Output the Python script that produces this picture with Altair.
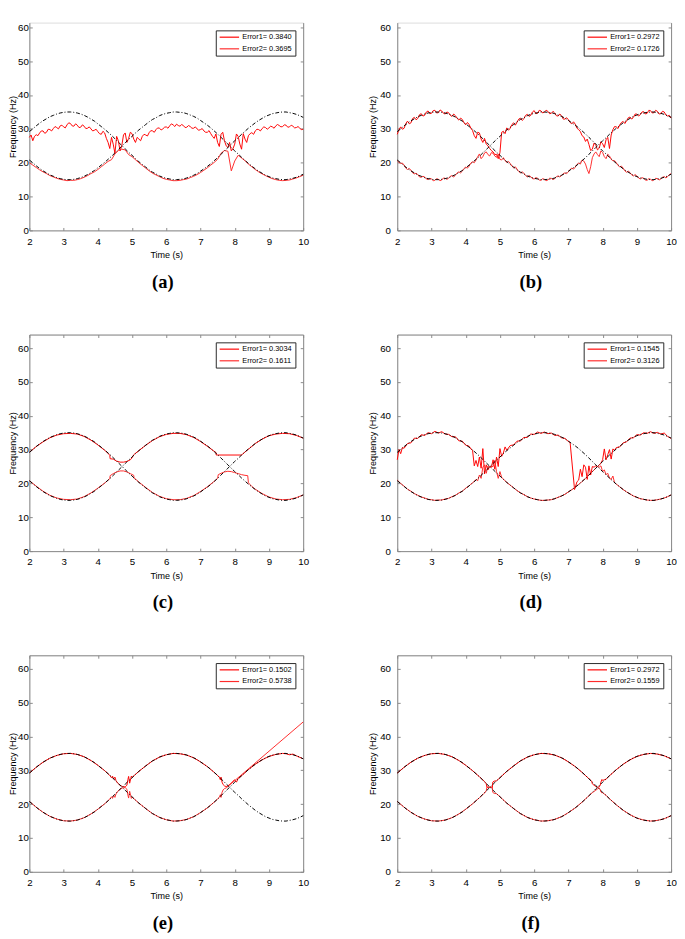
import altair as alt
import pandas as pd

# ---------------- data ----------------
T = [round(2 + 0.1 * i, 1) for i in range(81)]      # 0.1 s grid
T05 = [round(2 + 0.05 * i, 2) for i in range(161)]  # 0.05 s grid

# reference (dash-dot) curves
BLACK_A = [29.2, 30.0, 30.9, 31.7, 32.4, 33.0, 33.6, 34.0, 34.4, 34.7,
           34.9, 35.0, 35.0, 34.9, 34.7, 34.4, 34.0, 33.5, 32.9, 32.3,
           31.5, 30.7, 29.9, 29.0, 28.1, 27.1, 26.1, 25.1, 24.1, 23.1,
           22.2, 21.2, 20.3, 19.5, 18.7, 17.9, 17.2, 16.7, 16.1, 15.7,
           15.4, 15.2, 15.0, 15.0, 15.1, 15.2, 15.5, 15.9, 16.3, 16.8,
           17.5, 18.2, 18.9, 19.7, 20.6, 21.5, 22.5, 23.5, 24.5, 25.5,
           26.5, 27.4, 28.4, 29.3, 30.2, 31.0, 31.8, 32.5, 33.1, 33.7,
           34.1, 34.5, 34.7, 34.9, 35.0, 35.0, 34.8, 34.6, 34.3, 33.9,
           33.4]
BLACK_B = [20.8, 20.0, 19.1, 18.3, 17.6, 17.0, 16.4, 16.0, 15.6, 15.3,
           15.1, 15.0, 15.0, 15.1, 15.3, 15.6, 16.0, 16.5, 17.1, 17.7,
           18.5, 19.3, 20.1, 21.0, 21.9, 22.9, 23.9, 24.9, 25.9, 26.9,
           27.8, 28.8, 29.7, 30.5, 31.3, 32.1, 32.8, 33.3, 33.9, 34.3,
           34.6, 34.8, 35.0, 35.0, 34.9, 34.8, 34.5, 34.1, 33.7, 33.2,
           32.5, 31.8, 31.1, 30.3, 29.4, 28.5, 27.5, 26.5, 25.5, 24.5,
           23.5, 22.6, 21.6, 20.7, 19.8, 19.0, 18.2, 17.5, 16.9, 16.3,
           15.9, 15.5, 15.3, 15.1, 15.0, 15.0, 15.2, 15.4, 15.7, 16.1,
           16.6]

# panel (a)  (VA1 on T05, VA2 on T)
VA1 = [27.5, 28.2, 26.5, 27.8, 28.3, 28.0, 28.8, 29.4, 29.4, 28.7,
       29.0, 29.9, 29.8, 29.4, 30.1, 30.7, 30.4, 30.0, 30.9, 31.1,
       30.6, 30.3, 31.2, 31.8, 31.6, 30.9, 30.8, 31.5, 31.1, 30.4,
       30.5, 31.2, 30.8, 30.1, 30.2, 30.6, 30.0, 29.4, 29.6, 29.9,
       29.2, 28.6, 28.4, 29.3, 28.8, 27.2, 26.0, 24.2, 27.5, 25.5,
       22.8, 27.8, 26.5, 23.5, 25.0, 28.2, 28.8, 26.0, 27.2, 29.0,
       28.6, 27.0, 26.0, 27.5, 27.0, 26.5, 27.8, 28.4, 28.2, 27.9,
       28.9, 29.5, 29.4, 29.0, 29.8, 30.3, 30.2, 29.7, 30.0, 30.5,
       30.6, 30.2, 30.9, 31.5, 31.2, 30.7, 31.4, 31.0, 30.8, 31.3,
       31.0, 30.4, 30.5, 31.0, 30.7, 30.2, 30.2, 30.6, 30.0, 29.6,
       29.8, 30.1, 29.4, 29.0, 29.0, 29.5, 28.6, 27.8, 27.2, 28.5,
       26.0, 24.8, 28.4, 29.0, 26.5, 25.0, 24.5, 26.0, 23.5, 24.2,
       25.5, 28.5, 27.8, 25.5, 24.0, 28.6, 27.0, 26.0, 28.0, 28.6,
       28.9, 28.4, 29.4, 29.9, 29.8, 29.4, 30.1, 30.6, 30.4, 29.9,
       30.3, 30.8, 30.6, 30.2, 30.9, 31.3, 31.0, 30.6, 30.7, 31.2,
       31.1, 30.5, 30.6, 31.1, 30.8, 30.3, 30.4, 30.7, 30.2, 29.8,
       29.9]
VA2 = [20.0, 19.3, 18.6, 17.9, 17.3, 16.8, 16.2, 15.8, 15.4, 15.1,
       14.9, 14.7, 14.8, 14.8, 15.0, 15.3, 15.7, 16.2, 16.8, 17.3,
       18.0, 18.8, 19.6, 20.4, 20.9, 22.6, 23.6, 24.0, 23.8, 22.4,
       21.8, 20.9, 20.0, 19.2, 18.4, 17.6, 16.9, 16.4, 15.9, 15.4,
       15.1, 14.9, 14.7, 14.7, 14.8, 15.0, 15.2, 15.6, 16.0, 16.5,
       17.1, 17.8, 18.5, 19.3, 20.1, 21.0, 22.8, 23.6, 23.4, 17.6,
       20.5, 22.2, 21.4, 20.6, 19.6, 18.8, 18.0, 17.3, 16.7, 16.2,
       15.7, 15.3, 15.0, 14.8, 14.7, 14.8, 14.9, 15.2, 15.5, 15.9,
       16.3]

# panel (b)  (both on T05)
VB1 = [28.4, 29.8, 30.6, 29.9, 30.2, 31.6, 32.3, 31.5, 31.8, 33.1,
       33.4, 32.7, 33.1, 34.2, 34.5, 33.8, 34.0, 35.0, 35.3, 34.5,
       34.6, 35.4, 35.5, 34.7, 34.8, 35.6, 35.3, 34.6, 34.4, 35.0,
       34.8, 34.0, 33.7, 34.4, 33.9, 33.1, 32.6, 33.2, 32.8, 31.8,
       31.2, 31.9, 31.3, 30.2, 29.5, 28.0, 27.2, 29.0, 28.8, 27.0,
       26.0, 27.2, 25.5, 25.0, 24.2, 23.6, 23.2, 22.4, 22.5, 21.2,
       23.0, 29.0, 29.3, 28.6, 30.3, 29.6, 30.2, 31.3, 31.8, 31.1,
       32.0, 32.9, 33.2, 32.5, 33.0, 34.0, 34.3, 33.7, 34.0, 35.0,
       35.4, 34.5, 34.6, 35.5, 35.3, 34.7, 35.0, 35.5, 35.2, 34.5,
       34.6, 35.2, 34.7, 33.9, 33.8, 34.4, 33.9, 32.9, 32.9, 33.3,
       32.7, 31.9, 31.5, 32.1, 31.4, 30.2, 29.8, 29.2, 28.0, 27.6,
       26.3, 27.0, 25.4, 23.6, 24.0, 25.8, 25.2, 23.8, 24.3, 26.2,
       25.6, 24.5, 26.8, 27.5, 24.2, 28.2, 29.8, 30.7, 30.6, 30.1,
       31.2, 31.9, 32.2, 31.6, 32.4, 33.3, 33.5, 32.9, 33.4, 34.4,
       34.4, 33.8, 34.2, 35.0, 35.1, 34.4, 34.6, 35.5, 35.4, 34.7,
       34.8, 35.5, 35.2, 34.4, 34.5, 35.2, 35.0, 34.1, 33.8, 34.0,
       33.2]
VB2 = [20.6, 20.1, 19.8, 19.9, 19.3, 18.4, 18.0, 18.3, 17.8, 17.0,
       16.7, 16.9, 16.5, 15.8, 15.7, 16.0, 15.8, 15.2, 15.0, 15.4,
       15.2, 14.7, 14.8, 15.3, 15.1, 14.7, 14.9, 15.5, 15.4, 15.1,
       15.4, 16.0, 16.2, 15.8, 16.3, 17.0, 17.3, 17.0, 17.5, 18.3,
       18.7, 18.4, 19.0, 19.9, 20.3, 20.0, 20.8, 21.8, 22.6, 21.2,
       21.8, 22.9, 23.2, 22.4, 22.0, 23.0, 22.8, 22.0, 21.6, 22.6,
       21.0, 20.8, 21.5, 20.6, 20.1, 20.4, 19.8, 19.0, 18.5, 18.8,
       18.1, 17.4, 17.0, 17.3, 16.9, 16.2, 15.8, 16.2, 15.9, 15.3,
       15.2, 15.6, 15.4, 14.9, 14.8, 15.3, 15.1, 14.7, 14.9, 15.4,
       15.4, 15.0, 15.3, 15.9, 16.1, 15.8, 16.2, 16.8, 17.0, 16.8,
       17.3, 18.0, 18.4, 18.1, 18.7, 19.5, 19.9, 19.6, 20.8, 20.5,
       19.6, 18.0, 16.8, 18.8, 21.5, 22.6, 23.2, 22.4, 21.8, 23.5,
       23.0, 21.8, 21.2, 22.5, 22.0, 21.0, 20.6, 20.6, 20.0, 19.2,
       18.8, 19.0, 18.4, 17.6, 17.2, 17.5, 17.1, 16.4, 16.1, 16.5,
       16.1, 15.5, 15.2, 15.6, 15.4, 14.9, 14.8, 15.3, 15.1, 14.7,
       14.9, 15.4, 15.3, 14.9, 15.2, 15.7, 15.9, 15.5, 15.9, 16.5,
       16.8]

# panel (c)
TC1 = [2.0, 2.2, 2.4, 2.6, 2.8, 3.0, 3.2, 3.4, 3.6, 3.8, 4.0, 4.2,
       4.3, 4.35, 4.36, 4.45, 4.55, 4.65, 4.75, 4.85, 4.95, 5.0, 5.05, 5.1,
       5.2, 5.4, 5.6, 5.8, 6.0, 6.2, 6.4, 6.6, 6.8, 7.0, 7.2, 7.4,
       7.45, 7.46, 8.2, 8.3, 8.4,
       8.6, 8.8, 9.0, 9.2, 9.4, 9.6, 9.8, 10.0]
VC1 = [29.2, 30.9, 32.3, 33.5, 34.3, 34.7, 34.8, 34.6, 33.9, 32.8, 31.4, 29.8,
       28.9, 28.3, 27.3, 27.2, 26.6, 26.3, 26.3, 26.5, 27.0, 27.6, 28.5, 28.9,
       29.7, 31.3, 32.7, 33.8, 34.5, 34.8, 34.8, 34.4, 33.6, 32.4, 31.0, 29.5,
       29.2, 28.4, 28.4, 29.3, 30.1,
       31.8, 33.1, 34.1, 34.6, 34.8, 34.7, 34.2, 33.4]
TC2 = [2.0, 2.2, 2.4, 2.6, 2.8, 3.0, 3.2, 3.4, 3.6, 3.8, 4.0, 4.2,
       4.35, 4.36, 4.45, 4.55, 4.65, 4.75, 4.85, 4.95, 5.05, 5.06, 5.1,
       5.2, 5.4, 5.6, 5.8, 6.0, 6.2, 6.4, 6.6, 6.8, 7.0, 7.2, 7.4,
       7.5, 7.52, 7.6, 7.7, 7.8, 7.9, 8.0, 8.1, 8.2, 8.3, 8.38, 8.4, 8.5, 8.6,
       8.8, 9.0, 9.2, 9.4, 9.6, 9.8, 10.0]
VC2 = [20.8, 19.2, 17.7, 16.5, 15.7, 15.3, 15.2, 15.4, 16.1, 17.2, 18.6, 20.1,
       21.4, 22.3, 22.9, 23.4, 23.7, 23.7, 23.4, 22.9, 22.4, 21.5, 21.3,
       20.4, 18.8, 17.3, 16.2, 15.5, 15.2, 15.2, 15.6, 16.4, 17.6, 19.0, 20.6,
       21.5, 22.6, 23.0, 23.4, 23.6, 23.5, 23.2, 22.9, 22.6, 22.4, 22.3, 20.2, 19.1, 18.3,
       17.0, 16.0, 15.4, 15.2, 15.3, 15.8, 16.6]

# panel (d)
TD = [2.0, 2.05, 2.1, 2.15, 2.2,
      2.3, 2.4, 2.5, 2.6, 2.7, 2.8, 2.9, 3.0, 3.1, 3.2, 3.3, 3.4, 3.5, 3.6, 3.7, 3.8, 3.9, 4.0, 4.1,
      4.15, 4.2, 4.25, 4.3, 4.35, 4.4, 4.45, 4.5, 4.55, 4.6, 4.65, 4.7, 4.75, 4.8, 4.85, 4.9, 4.95,
      5.0, 5.05, 5.1, 5.15, 5.2,
      5.3, 5.4, 5.5, 5.6, 5.7, 5.8, 5.9, 6.0, 6.1, 6.2, 6.3, 6.4, 6.5, 6.6, 6.7, 6.8, 6.9, 7.0,
      7.05, 7.18,
      7.25, 7.3, 7.35, 7.4, 7.45, 7.5, 7.55, 7.6, 7.65, 7.7, 7.75, 7.8, 7.85, 7.9, 7.95, 8.0,
      8.05, 8.1, 8.15, 8.2, 8.25, 8.3, 8.35, 8.4,
      8.5, 8.6, 8.7, 8.8, 8.9, 9.0, 9.1, 9.2, 9.3, 9.4, 9.5, 9.6, 9.7, 9.8, 9.9, 10.0]
VD1 = [27.0, 30.0, 28.8, 30.6, 30.4,
       31.8, 32.0, 33.4, 33.3, 34.4, 34.2, 35.0, 34.7, 35.4, 34.9, 35.3, 34.6, 34.5, 33.8, 33.8, 32.6, 32.5, 31.3, 31.0,
       30.2, 29.8, 25.2, 26.8, 25.0, 27.8, 24.5, 30.3, 22.8, 25.5, 24.0, 25.0, 24.8, 27.0, 24.2, 27.8, 25.0,
       30.3, 28.0, 29.0, 30.8, 29.8,
       31.2, 31.4, 32.5, 32.6, 33.6, 33.6, 34.6, 34.5, 35.2, 34.8, 35.2, 34.7, 34.9, 34.2, 34.3, 33.5, 33.3, 32.4,
       32.1, 18.2,
       20.5, 21.0, 24.2, 22.0, 25.5, 24.8, 21.2, 25.2, 22.5, 25.0, 24.8, 25.2, 25.0, 25.4, 26.0, 27.0,
       30.2, 27.0, 28.5, 30.0, 27.2, 30.2, 29.8, 30.6,
       30.8, 32.0, 32.3, 33.4, 33.5, 34.4, 34.3, 35.0, 34.8, 35.3, 34.8, 35.1, 34.6, 34.9, 33.9, 33.3]
VD2 = [21.0, 20.5, 20.0, 19.6, 19.2,
       18.3, 17.7, 17.0, 16.5, 16.0, 15.7, 15.3, 15.2, 15.0, 15.1, 15.1, 15.4, 15.6, 16.1, 16.5, 17.2, 17.7, 18.6, 19.3,
       19.8, 20.2, 20.6, 21.2, 20.8, 22.5, 21.5, 24.8, 25.5, 23.0, 25.2, 24.8, 25.0, 25.0, 26.8, 23.5, 21.5,
       23.5, 21.8, 21.3, 20.8, 20.3,
       19.5, 18.7, 17.9, 17.2, 16.7, 16.1, 15.7, 15.4, 15.2, 15.0, 15.0, 15.1, 15.2, 15.5, 15.9, 16.3, 16.8, 17.5,
       17.8, 18.7,
       19.3, 19.7, 20.1, 20.6, 21.0, 21.5, 22.0, 22.5, 23.0, 23.5, 24.0, 24.5, 25.0, 24.8, 25.2, 23.5,
       24.0, 22.6, 23.0, 21.6, 21.2, 22.2, 20.2, 19.8,
       19.0, 18.2, 17.5, 16.9, 16.3, 15.9, 15.5, 15.3, 15.1, 15.0, 15.0, 15.2, 15.4, 15.7, 16.1, 16.6]

# panel (e)
TE1 = [2.0, 2.2, 2.4, 2.6, 2.8, 3.0, 3.2, 3.4, 3.6, 3.8, 4.0, 4.2,
       4.35, 4.4, 4.43, 4.46, 4.5, 4.53, 4.58, 4.65, 4.72, 4.8, 4.85, 4.88, 4.9, 4.93, 4.96, 4.98, 5.0,
       5.1, 5.2, 5.4, 5.6, 5.8, 6.0, 6.2, 6.4, 6.6, 6.8, 7.0, 7.2, 7.4,
       7.55, 7.58, 7.6, 7.63, 7.66, 7.7, 7.75, 7.8, 7.9, 7.95, 8.0, 8.05, 8.1, 8.15, 8.2,
       8.4, 8.6, 8.8, 9.0, 9.2, 9.4, 9.5, 9.6, 9.7, 9.8, 10.0]
VE1 = [29.2, 30.9, 32.4, 33.6, 34.4, 34.9, 35.0, 34.7, 34.0, 32.9, 31.5, 29.9,
       28.5, 27.8, 28.3, 27.4, 28.0, 27.0, 26.2, 25.6, 25.2, 25.1, 25.6, 27.3, 28.2, 26.2, 27.5, 28.3, 27.9,
       28.8, 29.7, 31.3, 32.8, 33.9, 34.6, 35.0, 34.9, 34.5, 33.7, 32.5, 31.1, 29.4,
       28.0, 27.2, 28.0, 26.5, 25.8, 25.4, 25.2, 25.4, 26.2, 26.8, 27.2, 26.5, 27.6, 28.0, 28.4,
       30.2, 31.8, 33.1, 34.1, 34.7, 35.0, 34.9, 34.6, 34.8, 34.3, 33.4]
TE2 = [2.0, 2.2, 2.4, 2.6, 2.8, 3.0, 3.2, 3.4, 3.6, 3.8, 4.0, 4.2,
       4.35, 4.4, 4.43, 4.46, 4.5, 4.53, 4.58, 4.65, 4.72, 4.8, 4.85, 4.88, 4.9, 4.93, 4.96, 4.98, 5.0,
       5.1, 5.2, 5.4, 5.6, 5.8, 6.0, 6.2, 6.4, 6.6, 6.8, 7.0, 7.2, 7.4,
       7.55, 7.58, 7.6, 7.63, 7.66, 7.7, 7.75, 10.0]
VE2 = [20.8, 19.1, 17.6, 16.4, 15.6, 15.1, 15.0, 15.3, 16.0, 17.1, 18.5, 20.1,
       21.5, 22.2, 21.7, 22.6, 22.0, 23.0, 23.8, 24.4, 24.8, 24.9, 24.4, 22.7, 21.8, 23.8, 22.5, 21.7, 22.1,
       21.2, 20.3, 18.7, 17.2, 16.1, 15.4, 15.0, 15.1, 15.5, 16.3, 17.5, 18.9, 20.6,
       22.0, 22.8, 22.0, 23.5, 24.2, 24.6, 24.8, 44.3]

# panel (f)
TF1 = [2.0, 2.2, 2.4, 2.6, 2.8, 3.0, 3.2, 3.4, 3.6, 3.8, 4.0, 4.2,
       4.4, 4.5, 4.55, 4.6, 4.62, 4.7, 4.78, 4.79, 4.83, 4.9, 5.0,
       5.2, 5.4, 5.6, 5.8, 6.0, 6.2, 6.4, 6.6, 6.8, 7.0, 7.2, 7.4, 7.6,
       7.68, 7.7, 7.75, 7.8, 7.85, 7.9, 7.93, 7.95, 7.98, 8.0, 8.1, 8.2,
       8.4, 8.6, 8.8, 9.0, 9.2, 9.4, 9.6, 9.8, 10.0]
VF1 = [29.2, 30.9, 32.4, 33.6, 34.4, 34.9, 35.0, 34.7, 34.0, 32.9, 31.5, 29.9,
       28.1, 27.2, 26.7, 26.0, 25.0, 25.0, 25.0, 26.5, 26.8, 26.9, 27.8,
       29.7, 31.3, 32.8, 33.9, 34.6, 35.0, 34.9, 34.5, 33.7, 32.5, 31.1, 29.4, 27.5,
       26.8, 26.0, 25.6, 25.2, 25.0, 25.1, 25.6, 26.5, 27.3, 27.0, 27.4, 28.4,
       30.2, 31.8, 33.1, 34.1, 34.7, 35.0, 34.8, 34.3, 33.4]
TF2 = [2.0, 2.2, 2.4, 2.6, 2.8, 3.0, 3.2, 3.4, 3.6, 3.8, 4.0, 4.2,
       4.4, 4.5, 4.55, 4.6, 4.62, 4.7, 4.78, 4.79, 4.83, 4.9, 5.0,
       5.2, 5.4, 5.6, 5.8, 6.0, 6.2, 6.4, 6.6, 6.8, 7.0, 7.2, 7.4, 7.6,
       7.7, 7.8, 7.85, 7.9, 7.93, 7.95, 7.98, 8.0, 8.1, 8.2,
       8.4, 8.6, 8.8, 9.0, 9.2, 9.4, 9.6, 9.8, 10.0]
VF2 = [20.8, 19.1, 17.6, 16.4, 15.6, 15.1, 15.0, 15.3, 16.0, 17.1, 18.5, 20.1,
       21.9, 22.8, 23.3, 24.0, 25.0, 25.0, 25.0, 23.5, 23.2, 23.1, 22.2,
       20.3, 18.7, 17.2, 16.1, 15.4, 15.0, 15.1, 15.5, 16.3, 17.5, 18.9, 20.6, 22.5,
       23.4, 24.1, 24.5, 24.8, 24.3, 23.6, 23.3, 23.4, 22.6, 21.6,
       19.8, 18.2, 16.9, 15.9, 15.3, 15.0, 15.2, 15.7, 16.6]

PANEL_TAGS = ["(a)", "(b)", "(c)", "(d)", "(e)", "(f)"]
ERR1 = ["0.3840", "0.2972", "0.3034", "0.1545", "0.1502", "0.2972"]
ERR2 = ["0.3695", "0.1726", "0.1611", "0.3126", "0.5738", "0.1559"]
X_TICKS = [2, 3, 4, 5, 6, 7, 8, 9, 10]
Y_TICKS = [0, 10, 20, 30, 40, 50, 60]

# ---------------- styling ----------------
W = 282
PX_PER_UNIT = 223 / 64.0          # same vertical scale in every panel
H_FULL = 223
YMAX_FULL = 64
H_TOP = 214                        # first row is cropped at the top in the original
YMAX_TOP = round(H_TOP / PX_PER_UNIT, 3)
AX = "#262626"
SANS = "Liberation Sans"
SERIF = "Liberation Serif, Times New Roman, serif"
LBL = 7.6
TTL = 9.3


def panel(k, t1, v1, t2, v2, left_col, top_row):
    h = H_TOP if top_row else H_FULL
    ymax = YMAX_TOP if top_row else YMAX_FULL
    lab1 = "Error1= " + ERR1[k]
    lab2 = "Error2= " + ERR2[k]
    red = pd.concat([
        pd.DataFrame({"t": t1, "v": v1, "s": lab1}),
        pd.DataFrame({"t": t2, "v": v2, "s": lab2}),
    ])
    black = pd.concat([
        pd.DataFrame({"t": T, "v": BLACK_A, "c": "A"}),
        pd.DataFrame({"t": T, "v": BLACK_B, "c": "B"}),
    ])
    xs = alt.Scale(domain=[2, 10], nice=False, zero=False)
    ys = alt.Scale(domain=[0, ymax], nice=False, zero=False)
    lp = 1.0 if left_col else 7.0
    tp = 0.0 if left_col else 2.5

    ax_x1 = alt.Axis(orient="bottom", values=X_TICKS, ticks=False, tickSize=0,
                     labelPadding=6.2, title="Time (s)", titlePadding=4.6,
                     titleFontWeight="normal", titleFont=SANS, titleFontSize=TTL,
                     domain=True, minExtent=0, grid=False, labelFlush=False,
                     labelOverlap=False)
    ax_y1 = alt.Axis(orient="left", values=Y_TICKS, ticks=False, tickSize=0,
                     labelPadding=lp, title="Frequency (Hz)", titlePadding=tp,
                     titleFontWeight="normal", titleFont=SANS, titleFontSize=TTL,
                     domain=True, minExtent=0, grid=False, labelOverlap=False)
    ax_x2 = alt.Axis(orient="top", offset=-h, values=X_TICKS, labels=False,
                     domain=False, ticks=True, tickSize=3, title=None,
                     minExtent=0, grid=False)
    ax_y2 = alt.Axis(orient="right", offset=-W, values=Y_TICKS, labels=False,
                     domain=False, ticks=True, tickSize=3, title=None,
                     minExtent=0, grid=False)
    ax_x3 = alt.Axis(orient="bottom", offset=-h, values=X_TICKS, labels=False,
                     domain=not top_row, ticks=not top_row, tickSize=3, title=None,
                     minExtent=0, grid=False)
    ax_y3 = alt.Axis(orient="left", offset=-W, values=Y_TICKS, labels=False,
                     domain=True, ticks=True, tickSize=3, title=None,
                     minExtent=0, grid=False)

    red_layer = alt.Chart(red).mark_line(strokeWidth=1).encode(
        x=alt.X("t:Q", scale=xs, axis=ax_x1),
        y=alt.Y("v:Q", scale=ys, axis=ax_y1),
        color=alt.Color(
            "s:N",
            scale=alt.Scale(domain=[lab1, lab2], range=["#ff0000", "#ff2a2a"]),
            legend=alt.Legend(
                title=None, orient="top-right", offset=8, padding=3,
                strokeColor=AX, fillColor="white",
                symbolType="M-1,0H5.667", symbolSize=36, symbolStrokeWidth=1.2,
                labelFont=SANS, labelFontSize=LBL, labelColor="black",
                labelOffset=16.3, rowPadding=4, cornerRadius=0,
            ),
        ),
    )
    black_layer = alt.Chart(black).mark_line(
        color="black", strokeWidth=1, strokeDash=[4, 2, 1, 2]
    ).encode(
        x=alt.X("t:Q", scale=xs, axis=ax_x2),
        y=alt.Y("v:Q", scale=ys, axis=ax_y2),
        detail="c:N",
    )
    frame_layer = alt.Chart(black).mark_line(opacity=0).encode(
        x=alt.X("t:Q", scale=xs, axis=ax_x3),
        y=alt.Y("v:Q", scale=ys, axis=ax_y3),
        detail="c:N",
    )
    return alt.layer(red_layer, black_layer, frame_layer).resolve_axis(
        x="independent", y="independent"
    ).properties(
        width=W, height=h,
        title=alt.TitleParams(
            text=PANEL_TAGS[k], orient="bottom", anchor="middle", frame="group",
            font=SERIF, fontSize=19, fontWeight="bold", color="black",
            offset=14, dx=-3.5, baseline="top",
        ),
    )


pa = panel(0, T05, VA1, T, VA2, True, True)
pb = panel(1, T05, VB1, T05, VB2, False, True)
pc = panel(2, TC1, VC1, TC2, VC2, True, False)
pd_ = panel(3, TD, VD1, TD, VD2, False, False)
pe = panel(4, TE1, VE1, TE2, VE2, True, False)
pf = panel(5, TF1, VF1, TF2, VF2, False, False)

HSP = 58.9


def row(p, q):
    return alt.hconcat(p, q, spacing=HSP).resolve_scale(
        color="independent").resolve_legend(color="independent")


chart = alt.vconcat(row(pa, pb), row(pc, pd_), row(pe, pf), spacing=42.3).resolve_scale(
    color="independent"
).resolve_legend(color="independent").properties(
    padding={"top": 0, "left": 0, "right": 0, "bottom": 0}
).configure_view(stroke=None).configure_axis(
    labelFont=SANS, titleFont=SANS, labelFontSize=LBL, titleFontSize=TTL,
    labelColor=AX, titleColor=AX, domainColor=AX, tickColor=AX,
    titleFontWeight="normal", domainWidth=1, tickWidth=0.8,
).configure(background="white")

chart.save("out.html", embed_options={"renderer": "svg", "actions": False})
